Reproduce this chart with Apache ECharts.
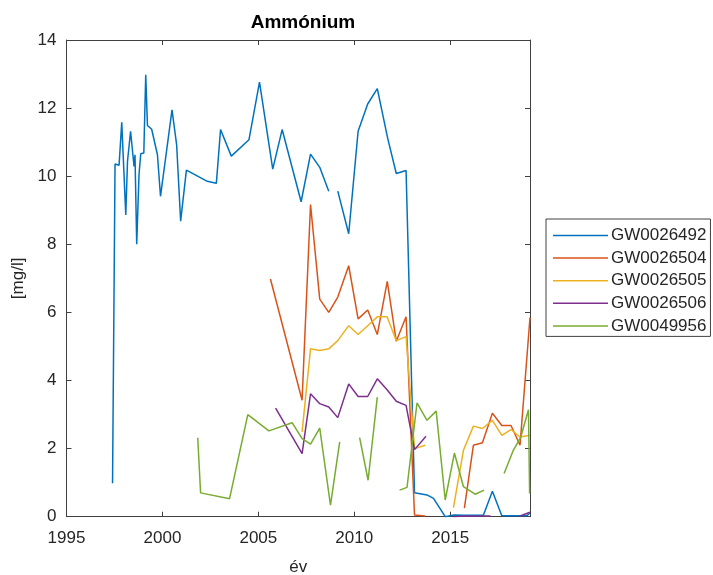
<!DOCTYPE html>
<html>
<head>
<meta charset="utf-8">
<script src="https://cdn.jsdelivr.net/npm/echarts@6/dist/echarts.min.js"></script>
<style>
html,body{margin:0;padding:0;background:#fff;}
#chart{width:713px;height:575px;}
</style>
</head>
<body>
<div id="chart"></div>
<script>
// ---- Data (null = gap in the line) ----
const seriesNames = ['GW0026492', 'GW0026504', 'GW0026505', 'GW0026506', 'GW0049956'];

const yearsA = [1997.40, 1997.53, 1997.74, 1997.88, 1998.09, 1998.18, 1998.34, 1998.40, 1998.52, 1998.57, 1998.66, 1998.78, 1998.87, 1999.03, 1999.13, 1999.22, 1999.44, 1999.74, 1999.90, 2000.50, 2000.74, 2000.95, 2001.25, 2002.34, 2002.81, 2003.03, 2003.59, 2004.51, 2005.06, 2005.75, 2006.24, 2007.23, 2007.72, 2008.20, 2008.67, 2008.90, 2009.14, 2009.71, 2010.20, 2010.70, 2011.20, 2011.74, 2012.19, 2012.70, 2013.14, 2013.79, 2014.13, 2014.74, 2015.20, 2015.70, 2016.20, 2016.73, 2017.20, 2017.69, 2018.20, 2018.70, 2019.00, 2019.15];
const valuesA = [0.98, 10.36, 10.32, 11.58, 8.86, 10.44, 11.32, 11.29, 10.29, 10.63, 8.00, 10.05, 10.66, 10.68, 12.98, 11.49, 11.38, 10.63, 9.41, 11.95, 10.93, 8.68, 10.18, 9.85, 9.79, 11.37, 10.59, 11.07, 12.76, 10.21, 11.37, 9.25, 10.65, 10.26, 9.56, null, 9.56, 8.31, 11.32, 12.12, 12.57, 11.12, 10.08, 10.17, 0.70, 0.64, 0.54, 0.00, 0.05, 0.04, 0.04, 0.04, 0.75, 0.03, 0.03, 0.03, 0.03, 0.10];

const yearsB = [2005.63, 2007.28, 2007.72, 2008.20, 2008.67, 2009.14, 2009.71, 2010.20, 2010.70, 2011.20, 2011.72, 2012.19, 2012.70, 2013.14, 2013.70, 2014.70, 2015.74, 2016.21, 2016.68, 2017.20, 2017.69, 2018.17, 2018.64, 2019.16];
const valuesB = [6.98, 3.42, 9.17, 6.39, 6.00, 6.45, 7.37, 5.81, 6.07, 5.35, 6.91, 5.15, 5.87, 0.05, 0.02, null, 0.25, 2.10, 2.17, 3.04, 2.68, 2.68, 2.10, 5.85];

const yearsC = [2007.28, 2007.72, 2008.20, 2008.67, 2009.14, 2009.71, 2010.20, 2010.70, 2011.20, 2011.71, 2012.19, 2012.70, 2013.14, 2013.70, 2014.50, 2015.17, 2015.69, 2016.21, 2016.68, 2017.20, 2017.69, 2018.17, 2018.64, 2019.16];
const valuesC = [2.49, 4.93, 4.88, 4.93, 5.17, 5.61, 5.35, 5.61, 5.87, 5.87, 5.17, 5.29, 2.00, 2.10, null, 0.27, 1.95, 2.66, 2.59, 2.83, 2.39, 2.56, 2.34, 2.39];

const yearsD = [2005.90, 2007.28, 2007.72, 2008.20, 2008.67, 2009.14, 2009.71, 2010.20, 2010.70, 2011.20, 2011.71, 2012.19, 2012.70, 2013.14, 2013.74, 2014.50, 2015.17, 2015.69, 2016.21, 2016.68, 2017.10, 2017.90, 2018.64, 2019.16];
const valuesD = [3.19, 1.85, 3.61, 3.32, 3.22, 2.91, 3.90, 3.53, 3.53, 4.05, 3.73, 3.39, 3.27, 1.97, 2.36, null, 0.00, 0.02, 0.01, 0.02, 0.02, null, 0.02, 0.13];

const yearsE = [2001.84, 2001.99, 2003.50, 2004.45, 2005.55, 2006.76, 2007.28, 2007.72, 2008.20, 2008.76, 2009.24, 2009.75, 2010.28, 2010.72, 2011.20, 2011.80, 2012.36, 2012.75, 2013.27, 2013.79, 2014.27, 2014.74, 2015.22, 2015.69, 2016.30, 2016.77, 2017.30, 2017.81, 2018.29, 2018.68, 2019.08, 2019.14];
const valuesE = [2.32, 0.70, 0.53, 3.00, 2.52, 2.76, 2.29, 2.13, 2.60, 0.34, 2.20, null, 2.32, 1.07, 3.51, null, 0.78, 0.86, 3.34, 2.83, 3.10, 0.49, 1.87, 0.88, 0.66, 0.78, null, 1.27, 1.95, 2.34, 3.14, 0.68];

const xTicks = [1995, 2000, 2005, 2010, 2015];
const yTicks = [0, 2, 4, 6, 8, 10, 12, 14];
const titleText = 'Ammónium';
const xLabel = 'év';
const yLabel = '[mg/l]';

// ---- Build chart ----
const colors = ['#0072BD', '#D95319', '#EDB120', '#7E2F8E', '#77AC30'];
const allYears = [yearsA, yearsB, yearsC, yearsD, yearsE];
const allValues = [valuesA, valuesB, valuesC, valuesD, valuesE];
const FONT = "'Liberation Sans', Arial, Helvetica, sans-serif";
const AX = '#404040';
const TXT = '#262626';

function pairs(xs, ys) {
  return xs.map((x, i) => [x, ys[i] === null ? '-' : ys[i]]);
}

const xMin = xTicks[0], xMax = 2019.16;
const yMin = yTicks[0], yMax = yTicks[yTicks.length - 1];

const commonX = {
  type: 'value', min: xMin, max: xMax, interval: 5,
  axisLine: { show: true, onZero: false, lineStyle: { color: AX, width: 1 } },
  axisTick: { show: true, inside: true, length: 5, lineStyle: { color: AX } },
  splitLine: { show: false }
};
const commonY = {
  type: 'value', min: yMin, max: yMax, interval: 2,
  axisLine: { show: true, onZero: false, lineStyle: { color: AX, width: 1 } },
  axisTick: { show: true, inside: true, length: 5, lineStyle: { color: AX } },
  splitLine: { show: false }
};

const chart = echarts.init(document.getElementById('chart'), null, { renderer: 'canvas' });
chart.setOption({
  animation: false,
  backgroundColor: '#fff',
  title: {
    text: titleText, left: 298, top: 8, textAlign: 'center',
    textStyle: { fontFamily: FONT, fontSize: 19, fontWeight: 'bold', color: '#000' }
  },
  grid: { left: 66.5, right: 183, top: 40, bottom: 58.3, containLabel: false, outerBoundsMode: 'none' },
  legend: {
    orient: 'vertical', left: 546, top: 219,
    padding: [8, 4, 2, 7], itemGap: 5.6, itemWidth: 55, itemHeight: 1.5,
    icon: 'rect',
    borderColor: AX, borderWidth: 1, backgroundColor: '#fff',
    data: seriesNames,
    textStyle: { fontFamily: FONT, fontSize: 17, color: TXT, lineHeight: 17, padding: [0, 0, 0, -2] }
  },
  xAxis: [
    Object.assign({}, commonX, {
      position: 'bottom',
      axisLabel: { show: true, margin: 13, fontFamily: FONT, fontSize: 17, color: TXT,
        formatter: v => (xTicks.indexOf(v) >= 0 ? String(v) : '') },
      name: xLabel, nameLocation: 'middle', nameGap: 42,
      nameTextStyle: { fontFamily: FONT, fontSize: 17, color: TXT }
    }),
    Object.assign({}, commonX, { position: 'top', axisLabel: { show: false } })
  ],
  yAxis: [
    Object.assign({}, commonY, {
      position: 'left',
      axisLabel: { show: true, margin: 10, fontFamily: FONT, fontSize: 17, color: TXT,
        formatter: v => (yTicks.indexOf(v) >= 0 ? String(v) : '') },
      name: yLabel, nameLocation: 'middle', nameGap: 37, nameRotate: 90,
      nameTextStyle: { fontFamily: FONT, fontSize: 17, color: TXT }
    }),
    Object.assign({}, commonY, { position: 'right', axisLabel: { show: false } })
  ],
  series: seriesNames.map((n, i) => ({
    name: n, type: 'line', xAxisIndex: 0, yAxisIndex: 0,
    data: pairs(allYears[i], allValues[i]),
    showSymbol: false, symbol: 'none', connectNulls: false,
    clip: true,
    lineStyle: { color: colors[i], width: 1.5 },
    itemStyle: { color: colors[i] },
    emphasis: { disabled: true }
  }))
});
</script>
</body>
</html>
